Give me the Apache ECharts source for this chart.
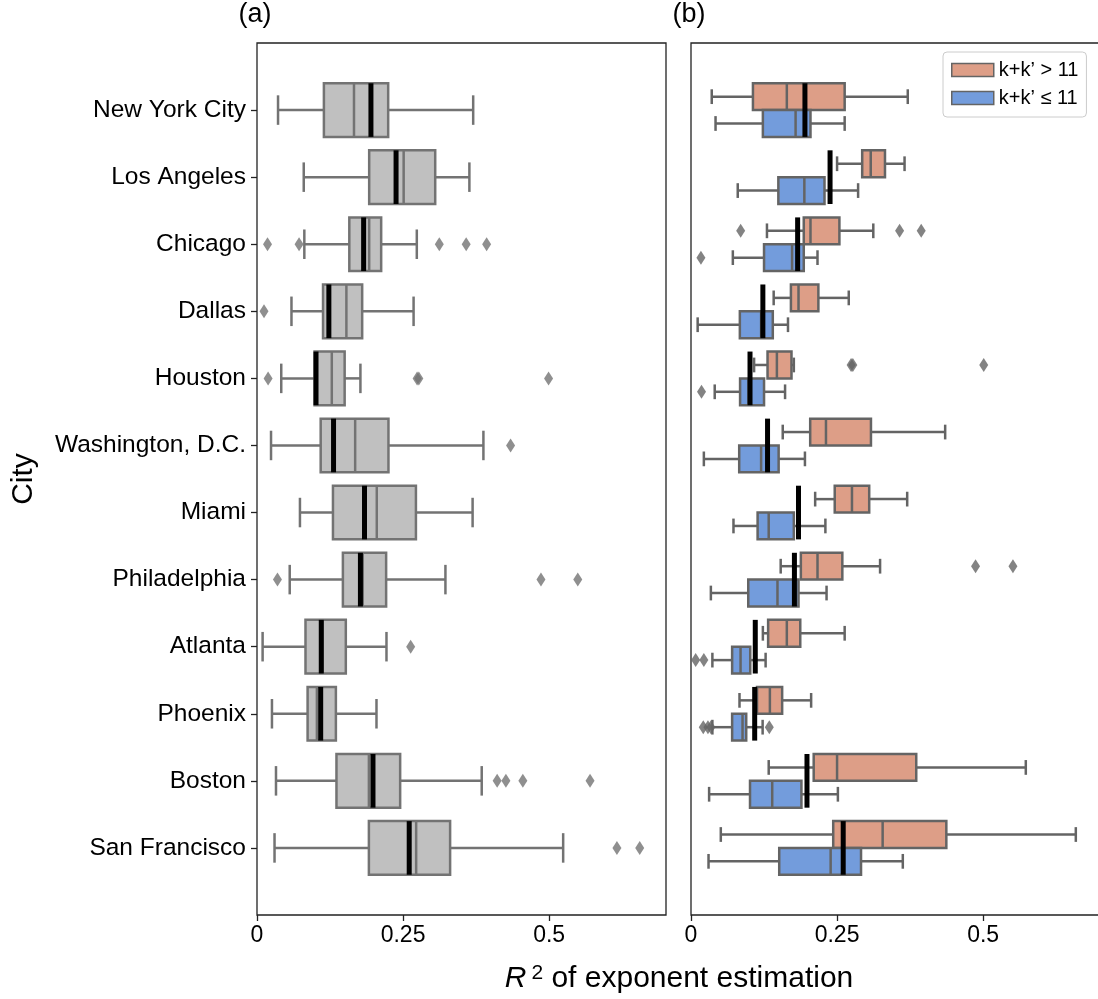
<!DOCTYPE html>
<html>
<head>
<meta charset="utf-8">
<script src="https://cdn.jsdelivr.net/npm/echarts@6/dist/echarts.min.js"></script>
<style>html,body{margin:0;padding:0;background:#fff;}#c{width:1098px;height:999px;}</style>
</head>
<body>
<div id="c"></div>
<script>
// ---------- data ----------
const cities = ['New York City','Los Angeles','Chicago','Dallas','Houston','Washington, D.C.','Miami','Philadelphia','Atlanta','Phoenix','Boston','San Francisco'];
const xTickValues = [0, 0.25, 0.5];
const xTickLabels = ['0', '0.25', '0.5'];
const seriesHighName = 'k+k\u2019 > 11';
const seriesLowName = 'k+k\u2019 \u2264 11';

// [whisker low, Q1, median, Q3, whisker high] per city
const allStats = [
  [0.036, 0.1145, 0.166, 0.2245, 0.370],
  [0.080, 0.192, 0.251, 0.305, 0.3635],
  [0.081, 0.158, 0.192, 0.2125, 0.2735],
  [0.059, 0.113, 0.153, 0.180, 0.268],
  [0.0415, 0.0985, 0.128, 0.150, 0.177],
  [0.024, 0.109, 0.168, 0.225, 0.3875],
  [0.0735, 0.130, 0.205, 0.272, 0.369],
  [0.056, 0.147, 0.181, 0.221, 0.3225],
  [0.0096, 0.083, 0.112, 0.152, 0.2216],
  [0.0256, 0.0866, 0.1025, 0.135, 0.2045],
  [0.0325, 0.136, 0.1915, 0.245, 0.3846],
  [0.030, 0.1915, 0.2724, 0.3305, 0.524]
];
const highStats = [
  [0.0355, 0.106, 0.164, 0.263, 0.371],
  [0.250, 0.293, 0.3076, 0.332, 0.3655],
  [0.130, 0.193, 0.2045, 0.254, 0.312],
  [0.1415, 0.171, 0.184, 0.218, 0.270],
  [0.108, 0.131, 0.147, 0.172, 0.176],
  [0.157, 0.204, 0.231, 0.308, 0.435],
  [0.2125, 0.246, 0.2755, 0.305, 0.370],
  [0.1535, 0.188, 0.2165, 0.259, 0.3236],
  [0.123, 0.132, 0.164, 0.187, 0.263],
  [0.083, 0.113, 0.135, 0.156, 0.2056],
  [0.133, 0.210, 0.250, 0.3855, 0.573],
  [0.051, 0.2434, 0.328, 0.437, 0.6586]
];
const lowStats = [
  [0.042, 0.123, 0.179, 0.2045, 0.263],
  [0.080, 0.1495, 0.194, 0.2285, 0.286],
  [0.0716, 0.125, 0.173, 0.193, 0.2165],
  [0.0114, 0.0836, 0.120, 0.140, 0.166],
  [0.0406, 0.084, 0.0985, 0.125, 0.161],
  [0.022, 0.0825, 0.120, 0.150, 0.195],
  [0.0727, 0.114, 0.133, 0.176, 0.230],
  [0.034, 0.098, 0.148, 0.184, 0.232],
  [0.0366, 0.0704, 0.0848, 0.1014, 0.1277],
  [0.0366, 0.0704, 0.0882, 0.0945, 0.1226],
  [0.031, 0.101, 0.139, 0.189, 0.2514],
  [0.030, 0.151, 0.239, 0.291, 0.3625]
];
// overall value per city (thick black line)
const overallValues = [0.195, 0.238, 0.1825, 0.123, 0.101, 0.131, 0.184, 0.177, 0.110, 0.109, 0.1985, 0.2605];

// outliers: [city index, value]
const allOutliers = [
  [2,0.018],[2,0.072],[2,0.312],[2,0.358],[2,0.393],
  [3,0.012],
  [4,0.019],[4,0.274],[4,0.277],[4,0.499],
  [5,0.434],
  [7,0.035],[7,0.486],[7,0.549],
  [8,0.263],
  [10,0.411],[10,0.426],[10,0.455],[10,0.570],
  [11,0.616],[11,0.655]
];
const highOutliers = [
  [2,0.085],[2,0.357],[2,0.394],
  [4,0.274],[4,0.277],[4,0.501],
  [7,0.487],[7,0.551]
];
const lowOutliers = [
  [2,0.017],
  [4,0.018],
  [8,0.008],[8,0.022],
  [9,0.021],[9,0.029],[9,0.034],[9,0.134]
];

// ---------- chart ----------
const FONT = "'Liberation Sans', Arial, Helvetica, sans-serif";
const chart = echarts.init(document.getElementById('c'), null, {renderer: 'canvas'});

function boxRenderer(offset, half, fill, edge) {
  return function (params, api) {
    const y = api.value(0) + offset;
    const unit = api.size([0, 1])[1];
    const hh = half * unit;
    const ch = hh * 0.55;
    const pLo = api.coord([api.value(1), y]);
    const pQ1 = api.coord([api.value(2), y]);
    const pMd = api.coord([api.value(3), y]);
    const pQ3 = api.coord([api.value(4), y]);
    const pHi = api.coord([api.value(5), y]);
    const cy = pMd[1];
    const ls = {stroke: edge, lineWidth: 2.5};
    return {
      type: 'group',
      children: [
        {type: 'line', shape: {x1: pLo[0], y1: cy, x2: pQ1[0], y2: cy}, style: ls},
        {type: 'line', shape: {x1: pQ3[0], y1: cy, x2: pHi[0], y2: cy}, style: ls},
        {type: 'line', shape: {x1: pLo[0], y1: cy - ch, x2: pLo[0], y2: cy + ch}, style: ls},
        {type: 'line', shape: {x1: pHi[0], y1: cy - ch, x2: pHi[0], y2: cy + ch}, style: ls},
        {type: 'rect', shape: {x: pQ1[0], y: cy - hh, width: pQ3[0] - pQ1[0], height: 2 * hh},
          style: {fill: fill, stroke: edge, lineWidth: 2.5}},
        {type: 'line', shape: {x1: pMd[0], y1: cy - hh, x2: pMd[0], y2: cy + hh}, style: ls}
      ]
    };
  };
}
function meanRenderer(half) {
  return function (params, api) {
    const y = api.value(0);
    const unit = api.size([0, 1])[1];
    const hh = half * unit;
    const p = api.coord([api.value(1), y]);
    return {type: 'rect', shape: {x: p[0] - 2.5, y: p[1] - hh, width: 5, height: 2 * hh}, style: {fill: '#000'}};
  };
}

const boxData = (stats) => stats.map((s, i) => [i].concat(s));
const meanData = overallValues.map((v, i) => [i, v]);
const outData = (arr, off) => arr.map(d => [d[1], d[0] + off]);

const GRAY_FILL = '#c0c0c0', GRAY_EDGE = '#737373';
const ORANGE = '#dd9e87', BLUE = '#739cdc', COLOR_EDGE = '#646464';

const yAxisBase = {
  type: 'value', min: -1, max: 12, inverse: true,
  splitLine: {show: false}, axisLine: {show: false, onZero: false}
};
const xAxisBase = {
  type: 'value', min: 0, max: 0.7, position: 'bottom',
  splitLine: {show: false}, axisLine: {show: false, onZero: false},
  axisTick: {show: true, length: 6, lineStyle: {color: '#222', width: 1.3}, customValues: xTickValues},
  axisLabel: {show: true, customValues: xTickValues, margin: 9, fontSize: 23, color: '#000', fontFamily: FONT,
    formatter: (v) => { const k = xTickValues.findIndex(t => Math.abs(t - v) < 1e-9); return k >= 0 ? xTickLabels[k] : ''; }}
};

const option = {
  animation: false,
  backgroundColor: '#fff',
  textStyle: {fontFamily: FONT},
  grid: [
    {left: 257, top: 43, width: 409, height: 872, show: true, borderColor: '#222', borderWidth: 1.3,
      backgroundColor: 'transparent', containLabel: false, outerBoundsMode: 'none'},
    {left: 691, top: 43, width: 409, height: 872, show: true, borderColor: '#222', borderWidth: 1.3,
      backgroundColor: 'transparent', containLabel: false, outerBoundsMode: 'none'}
  ],
  xAxis: [
    Object.assign({gridIndex: 0}, xAxisBase),
    Object.assign({gridIndex: 1}, xAxisBase)
  ],
  yAxis: [
    Object.assign({gridIndex: 0,
      name: 'City', nameLocation: 'middle', nameGap: 218, nameRotate: 90,
      nameTextStyle: {fontSize: 30, color: '#000', fontFamily: FONT},
      axisTick: {show: true, length: 6, lineStyle: {color: '#222', width: 1.3}, customValues: cities.map((c, i) => i)},
      axisLabel: {show: true, customValues: cities.map((c, i) => i), margin: 11, fontSize: 24.5, color: '#000', fontFamily: FONT,
        formatter: (v) => cities[Math.round(v)] || ''}
    }, yAxisBase),
    Object.assign({gridIndex: 1, axisTick: {show: false}, axisLabel: {show: false}}, yAxisBase)
  ],
  legend: {
    show: true,
    orient: 'vertical',
    left: 943, top: 52,
    padding: [8, 8, 9, 8],
    itemGap: 8,
    itemWidth: 42, itemHeight: 13,
    icon: 'rect',
    backgroundColor: '#fff',
    borderColor: '#cccccc', borderWidth: 1, borderRadius: 4,
    itemStyle: {borderColor: COLOR_EDGE, borderWidth: 1.5},
    textStyle: {fontSize: 20, color: '#000', fontFamily: FONT, lineHeight: 20},
    data: [seriesHighName, seriesLowName]
  },
  series: [
    {type: 'custom', name: 'all', xAxisIndex: 0, yAxisIndex: 0, z: 2,
      renderItem: boxRenderer(0, 0.4, GRAY_FILL, GRAY_EDGE),
      encode: {x: [1,2,3,4,5], y: 0}, data: boxData(allStats)},
    {type: 'custom', name: 'meanA', xAxisIndex: 0, yAxisIndex: 0, z: 4,
      renderItem: meanRenderer(0.4), encode: {x: 1, y: 0}, data: meanData},
    {type: 'scatter', name: 'outA', xAxisIndex: 0, yAxisIndex: 0, z: 3,
      symbol: 'diamond', symbolSize: [9, 14], itemStyle: {color: GRAY_EDGE},
      data: outData(allOutliers, 0)},

    {type: 'custom', name: seriesHighName, xAxisIndex: 1, yAxisIndex: 1, z: 2,
      itemStyle: {color: ORANGE, borderColor: COLOR_EDGE, borderWidth: 1.5},
      renderItem: boxRenderer(-0.2, 0.2, ORANGE, COLOR_EDGE),
      encode: {x: [1,2,3,4,5], y: 0}, data: boxData(highStats)},
    {type: 'custom', name: seriesLowName, xAxisIndex: 1, yAxisIndex: 1, z: 2,
      itemStyle: {color: BLUE, borderColor: COLOR_EDGE, borderWidth: 1.5},
      renderItem: boxRenderer(0.2, 0.2, BLUE, COLOR_EDGE),
      encode: {x: [1,2,3,4,5], y: 0}, data: boxData(lowStats)},
    {type: 'custom', name: 'meanB', xAxisIndex: 1, yAxisIndex: 1, z: 4,
      renderItem: meanRenderer(0.4), encode: {x: 1, y: 0}, data: meanData},
    {type: 'scatter', name: 'outB1', xAxisIndex: 1, yAxisIndex: 1, z: 3,
      symbol: 'diamond', symbolSize: [9, 14], itemStyle: {color: COLOR_EDGE},
      data: outData(highOutliers, -0.2)},
    {type: 'scatter', name: 'outB2', xAxisIndex: 1, yAxisIndex: 1, z: 3,
      symbol: 'diamond', symbolSize: [9, 14], itemStyle: {color: COLOR_EDGE},
      data: outData(lowOutliers, 0.2)}
  ],
  graphic: [
    {type: 'text', x: 255, y: 15, style: {text: '(a)', align: 'center', verticalAlign: 'middle', fontSize: 27, fontFamily: FONT, fill: '#000'}},
    {type: 'text', x: 689, y: 15, style: {text: '(b)', align: 'center', verticalAlign: 'middle', fontSize: 27, fontFamily: FONT, fill: '#000'}},
    {type: 'text', x: 679, y: 979, style: {
      text: '{i|R}{s|2}{n| of exponent estimation}',
      align: 'center', verticalAlign: 'middle', fill: '#000', fontFamily: FONT, fontSize: 30,
      rich: {
        i: {fontStyle: 'italic', fontSize: 30, fontFamily: FONT, fill: '#000'},
        s: {fontSize: 21, fontFamily: FONT, padding: [0, 0, 11, 5], fill: '#000'},
        n: {fontSize: 30, fontFamily: FONT, fill: '#000'}
      }
    }}
  ]
};
chart.setOption(option);
</script>
</body>
</html>
